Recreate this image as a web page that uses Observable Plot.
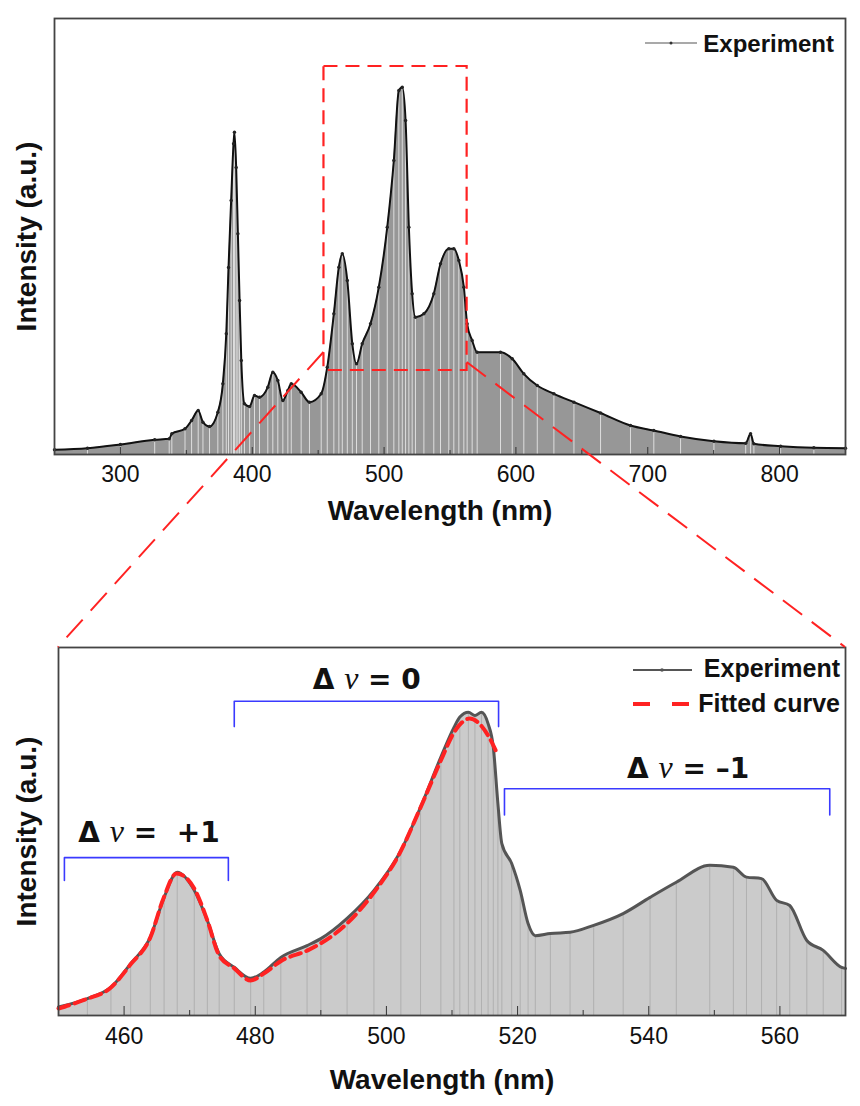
<!DOCTYPE html>
<html><head><meta charset="utf-8">
<script src="https://cdn.jsdelivr.net/npm/d3@7"></script>
<script src="https://cdn.jsdelivr.net/npm/@observablehq/plot@0.6"></script>
<style>
body{margin:0;background:#fff;}
#wrap{position:relative;width:860px;height:1106px;font-family:"Liberation Sans",Arial,sans-serif;}
#top,#bot{position:absolute;left:0;}
#top{top:0px}
#bot{top:600px}
#ov{position:absolute;left:0;top:0;pointer-events:none}
</style></head>
<body><div id="wrap"><div id="top"></div><div id="bot"></div><svg id="ov" width="860" height="1106"></svg></div>
<script>
// ---------- data: full spectrum (top panel) ----------
const topWavelength = [250,275,300,326,337,339,349,354,359,362.6,367.6,373.9,377.7,380.3,382,384,385.8,386.5,387.8,389.1,390.4,391.7,394.1,398,401.7,405.5,411.8,415.6,419.4,423.2,427,429.6,437.1,443.4,452.3,456.9,461.9,465.7,468.3,472.1,475.9,479.1,483.4,489.7,496,502.4,507.4,511.2,513.8,516.3,518.8,521.3,523.8,530.2,537.7,542.8,549.1,552.9,556.7,560.5,563,566.8,570.6,588.3,597.2,606,616.2,628.8,644,664.2,686.9,704.6,724.9,750.2,774.3,778,780.5,800.8,826,850];
const topIntensity = [4.7,6.3,10,14.7,15.7,20.7,25.7,34,44,32.3,28,42.3,70.7,120.7,187,254,310.7,322.3,287,220.7,154,94,50.7,48,59,57.3,67.3,82.3,74,54,64,70.7,62.3,52.3,60.7,87.3,140.7,187.3,200.7,174,110.7,90.7,110.7,130.7,167.3,227.3,294,364,367.3,334,227.3,160.7,137.3,140.7,160.7,190.7,205.7,205.7,194,167.3,130.7,114,102.3,102.3,95.7,80.7,69,60.7,52.3,41.5,29,24,18,13.3,11.3,20.7,10.7,8.3,6.7,6.3];
const topMajorTicks = [300,400,500,600,700,800];
const topMinorTicks = [350,450,550,650,750];
// zoom box (wavelength range / intensity range) and link start heights
const zoomBoxX = [454.4, 563];
const zoomBoxY = [84, 388];
const linkStartY = [102, 92];

// ---------- data: zoomed region (bottom panel) ----------
const botWavelength = [450,454.4,458,461,464,466.1,468.1,470.7,472.7,474.5,476.8,479.3,481.3,483.9,487.9,490,494,498.1,502.2,505.2,508.3,510.3,511.2,512.5,513.5,514.5,515.5,516.3,517,517.6,519.1,520.4,521.6,522.7,525,528,531.6,536.1,540.2,544.2,549.3,552.9,554.9,557.2,559.5,561.5,564.1,566.6,569.4,570];
const botIntensity = [2.3,4.6,7.7,14.1,21.3,32.1,38.9,34.0,25.8,16.8,13.1,10.1,11.8,15.8,19.0,20.9,26.4,34.0,44.8,56.6,70.2,78.3,81.1,82.4,81.5,82.4,79.3,72.9,57.6,46.7,41.3,34.0,25.0,21.7,22.3,22.6,24.5,27.7,32.1,36.2,40.8,40.3,37.6,37.2,31.3,29.9,20.4,17.7,13.1,12.8];
const fitWavelength = [450,454,458,461,464,466,468,470.7,472.7,474.5,476.8,479.3,481.3,484,488,490,494,498,502,505,508.3,510.3,511.5,512.7,514,515.5,517];
const fitIntensity = [1.9,4.3,7.6,13.9,21.2,31.8,38.6,34.5,25.8,16.3,12.8,9.5,11.4,14.9,17.7,19.6,25.0,33.2,44.0,55.7,69.3,76.9,79.6,80.7,79.6,76.1,70.7];
const botMajorTicks = [460,480,500,520,540,560];
const botMinorTicks = [470,490,510,530,550];
// band annotations
const bandLabel = ["Δ ν =\u00a0\u00a0+1", "Δ ν = 0", "Δ ν = –1"];
const bandFrom = [450.9, 476.8, 518.0];
const bandTo = [475.9, 517.1, 567.6];
const bandLevel = [42.9, 85.4, 61.6];
const bandDrop = [36.7, 78.5, 54.5];
const bandLabelX = [463.8, 497.0, 546.0];
const bandLabelY = [49.5, 91.2, 67.1];

// ---------- build tables ----------
const topData = topWavelength.map((x, i) => ({x, y: topIntensity[i]}));
const botData = botWavelength.map((x, i) => ({x, y: botIntensity[i]}));
const fitData = fitWavelength.map((x, i) => ({x, y: fitIntensity[i]}));
const bracketPts = bandLabel.flatMap((g, i) => [
  {g, x: bandFrom[i], y: bandDrop[i]},
  {g, x: bandFrom[i], y: bandLevel[i]},
  {g, x: bandTo[i], y: bandLevel[i]},
  {g, x: bandTo[i], y: bandDrop[i]}
]);
const bandText = bandLabel.map((t, i) => ({t, x: bandLabelX[i], y: bandLabelY[i]}));

const FONT = "Liberation Sans, Arial, sans-serif";
const RED = "#ff2222";
const CURVE = "monotone-x";

const topPlot = Plot.plot({
  width: 860, height: 540,
  marginLeft: 54, marginRight: 15, marginTop: 18, marginBottom: 86,
  style: {fontFamily: FONT, color: "#111", background: "white", overflow: "visible"},
  x: {domain: [250, 850]},
  y: {domain: [0, 436], axis: null},
  marks: [
    Plot.areaY(topData, {x: "x", y: "y", fill: "#979797", curve: CURVE}),
    Plot.ruleX(topData, {x: "x", y1: 0, y2: "y", stroke: "#f0f0f0", strokeWidth: 0.8}),
    Plot.line(topData, {x: "x", y: "y", stroke: "#111", strokeWidth: 2, curve: CURVE}),
    Plot.dot(topData, {x: "x", y: "y", r: 1.7, fill: "#222", stroke: null}),
    Plot.rect([0], {x1: zoomBoxX[0], x2: zoomBoxX[1], y1: zoomBoxY[0], y2: zoomBoxY[1], fill: "none", stroke: RED, strokeWidth: 2.2, strokeDasharray: "14,8"}),
    Plot.frame({stroke: "#444", strokeWidth: 1.8}),
    Plot.axisX(topMajorTicks, {tickSize: 0, tickPadding: 11, fontSize: 23, label: null, tickFormat: d => String(d)}),
    Plot.axisX(topMajorTicks, {tickSize: -7, fill: "none", stroke: "#333", label: null}),
    Plot.axisX(topMinorTicks, {tickSize: -4, fill: "none", stroke: "#333", label: null}),
    Plot.text(["Wavelength (nm)"], {text: d => d, frameAnchor: "bottom", dy: 57, dx: -10, fontSize: 28, fontWeight: "bold", lineAnchor: "middle"}),
    Plot.text(["Intensity (a.u.)"], {text: d => d, frameAnchor: "left", textAnchor: "middle", dx: -27, rotate: -90, fontSize: 28, fontWeight: "bold"})
  ]
});
document.getElementById("top").append(topPlot);

const botPlot = Plot.plot({
  width: 860, height: 506,
  marginLeft: 58, marginRight: 15, marginTop: 47, marginBottom: 91,
  style: {fontFamily: FONT, color: "#111", background: "white", overflow: "visible"},
  x: {domain: [450, 570]},
  y: {domain: [0, 100], axis: null},
  marks: [
    Plot.areaY(botData, {x: "x", y: "y", fill: "#cbcbcb", curve: CURVE}),
    Plot.ruleX(botData, {x: "x", y1: 0, y2: "y", stroke: "#a9a9a9", strokeWidth: 0.8}),
    Plot.line(botData, {x: "x", y: "y", stroke: "#555", strokeWidth: 3, curve: CURVE}),
    Plot.line(fitData, {x: "x", y: "y", stroke: RED, strokeWidth: 4, strokeDasharray: "11,6", curve: CURVE}),
    Plot.line(bracketPts, {x: "x", y: "y", z: "g", stroke: "#3a3aff", strokeWidth: 1.6}),
    Plot.text(bandText, {x: "x", y: "y", text: "t", fontFamily: "DejaVu Sans, sans-serif", fontSize: 28, fontWeight: "bold", fill: "#111"}),
    Plot.frame({stroke: "#444", strokeWidth: 1.8}),
    Plot.axisX(botMajorTicks, {tickSize: 0, tickPadding: 12, fontSize: 23, label: null, tickFormat: d => String(d)}),
    Plot.axisX(botMajorTicks, {tickSize: -9, fill: "none", stroke: "#333", label: null}),
    Plot.axisX(botMinorTicks, {tickSize: -5, fill: "none", stroke: "#333", label: null}),
    Plot.text(["Wavelength (nm)"], {text: d => d, frameAnchor: "bottom", dy: 65, dx: -10, fontSize: 28, fontWeight: "bold", lineAnchor: "middle"}),
    Plot.text(["Intensity (a.u.)"], {text: d => d, frameAnchor: "left", textAnchor: "middle", dx: -31, rotate: -90, fontSize: 28, fontWeight: "bold"})
  ]
});
document.getElementById("bot").append(botPlot);

// italic serif nu inside the band labels
const NS = "http://www.w3.org/2000/svg";
botPlot.querySelectorAll("text").forEach(t => {
  const s = t.textContent;
  if (!s.includes("ν")) return;
  const [a, b] = s.split("ν");
  t.textContent = "";
  const t1 = document.createElementNS(NS, "tspan"); t1.textContent = a;
  const t2 = document.createElementNS(NS, "tspan"); t2.textContent = "ν";
  t2.setAttribute("font-family", "Liberation Serif, serif");
  t2.setAttribute("font-style", "italic");
  t2.setAttribute("font-weight", "normal");
  t2.setAttribute("font-size", "32");
  const t3 = document.createElementNS(NS, "tspan"); t3.textContent = b;
  t.append(t1, t2, t3);
});

// ---------- overlay: zoom links and legends ----------
const BOT_TOP = 600;
const tx = topPlot.scale("x"), ty = topPlot.scale("y");
const bx = botPlot.scale("x"), by = botPlot.scale("y");
const ov = d3.select("#ov");
const links = [
  [tx.apply(zoomBoxX[0]), ty.apply(linkStartY[0]), bx.apply(450), by.apply(100) + BOT_TOP],
  [tx.apply(zoomBoxX[1]), ty.apply(linkStartY[1]), bx.apply(570), by.apply(100) + BOT_TOP]
];
ov.selectAll("line.link").data(links).join("line").attr("class", "link")
  .attr("x1", d => d[0]).attr("y1", d => d[1]).attr("x2", d => d[2]).attr("y2", d => d[3])
  .attr("stroke", RED).attr("stroke-width", 2).attr("stroke-dasharray", "24,12");

// top legend
const tl = ov.append("g");
tl.append("line").attr("x1", 645).attr("x2", 697).attr("y1", 43).attr("y2", 43).attr("stroke", "#555").attr("stroke-width", 1.2);
tl.append("circle").attr("cx", 671).attr("cy", 43).attr("r", 1.5).attr("fill", "#333");
tl.append("text").attr("x", 834).attr("y", 52).attr("text-anchor", "end").attr("font-family", FONT)
  .attr("font-size", 24).attr("font-weight", "bold").attr("fill", "#111").text("Experiment");

// bottom legend
const bl = ov.append("g");
bl.append("line").attr("x1", 633).attr("x2", 692).attr("y1", 670).attr("y2", 670).attr("stroke", "#555").attr("stroke-width", 2);
bl.append("circle").attr("cx", 662).attr("cy", 670).attr("r", 1.8).attr("fill", "#555");
bl.append("text").attr("x", 840).attr("y", 677).attr("text-anchor", "end").attr("font-family", FONT)
  .attr("font-size", 25).attr("font-weight", "bold").attr("fill", "#111").text("Experiment");
bl.append("line").attr("x1", 633).attr("x2", 691).attr("y1", 704).attr("y2", 704).attr("stroke", RED).attr("stroke-width", 4).attr("stroke-dasharray", "17,22");
bl.append("text").attr("x", 840).attr("y", 712).attr("text-anchor", "end").attr("font-family", FONT)
  .attr("font-size", 25).attr("font-weight", "bold").attr("fill", "#111").text("Fitted curve");
</script>
</body></html>
